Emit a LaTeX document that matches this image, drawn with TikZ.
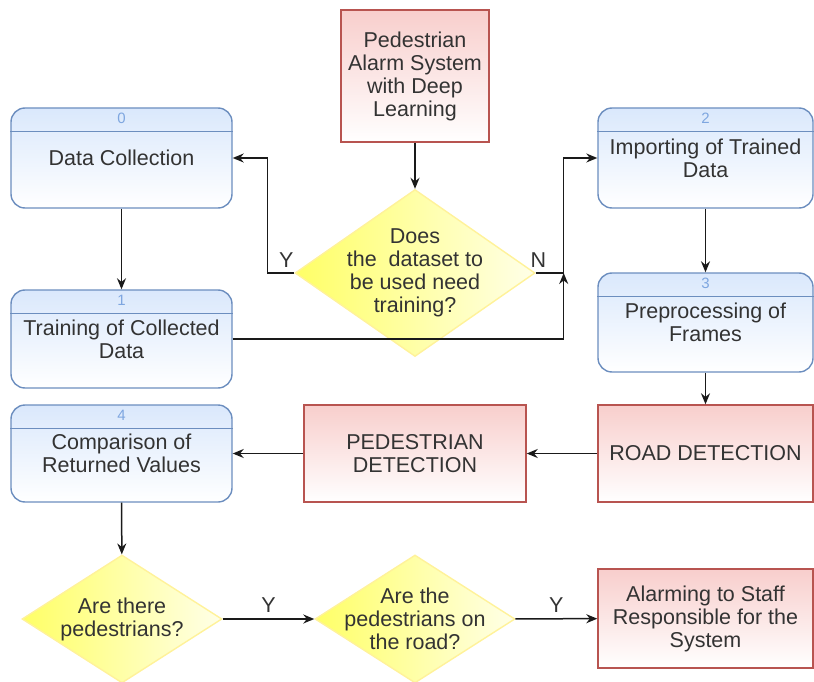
\documentclass[tikz,border=0pt]{standalone}
\usepackage{fontspec}
\setmainfont{Liberation Sans}
\usetikzlibrary{shapes.geometric, arrows.meta, positioning}

\definecolor{blueTop}{HTML}{DAE8FC}
\definecolor{blueLine}{HTML}{6C8EBF}
\definecolor{blueNum}{HTML}{7EA6E0}
\definecolor{redTop}{HTML}{F8CECC}
\definecolor{redLine}{HTML}{B85450}
\definecolor{yellowFill}{HTML}{FFFF66}
\definecolor{yellowLine}{HTML}{FFF29A}
\definecolor{textGray}{HTML}{333333}
\definecolor{lineBlack}{HTML}{1A1A1A}

\begin{document}
\begin{tikzpicture}[x=1pt, y=-1pt, >={Stealth[length=11pt, width=9pt]},
    font=\fontsize{21.5}{23}\selectfont, text=textGray,
    process/.style={draw=blueLine, line width=1.4pt, rounded corners=14pt,
        top color=blueTop, bottom color=white, align=center, inner sep=0pt},
    block/.style={draw=redLine, line width=1.4pt,
        top color=redTop, bottom color=white, align=center, inner sep=0pt},
    decision/.style={diamond, draw=yellowLine, line width=1.4pt,
        left color=yellowFill, right color=yellowFill!15!white, inner sep=0pt},
    flow/.style={->, draw=lineBlack, line width=1.5pt},
    header/.style={draw=blueLine, line width=1.4pt},
    num/.style={text=blueNum, font=\fontsize{15}{16}\selectfont}]

    \useasboundingbox (0,0) rectangle (814,682);
    \clip (0,0) rectangle (814,682);

    % Start
    \node [block, minimum width=148pt, minimum height=132pt] (title) at (415,76)
        {Pedestrian\\Alarm System\\with Deep\\Learning};

    % First decision
    \node [decision, minimum width=240pt, minimum height=167pt] (q_train) at (415,273) {};
    \node [align=center] (q_train_txt) at (q_train) {Does\\the\ \ dataset to\\be used need\\training?};
    \coordinate (join) at ([xshift=28pt]q_train.east);

    % Numbered processes
    \node [process, minimum width=221pt, minimum height=100pt] (data_col) at (121.5,158) {Data Collection};
    \node [process, minimum width=221pt, minimum height=98pt] (train) at (121.5,339) {Training of Collected\\Data};
    \node [process, minimum width=215pt, minimum height=100pt] (import) at (705.5,158) {Importing of Trained\\Data};
    \node [process, minimum width=215pt, minimum height=99pt] (prep) at (705.5,322.5) {Preprocessing of\\Frames};
    \node [process, minimum width=221pt, minimum height=97pt] (compare) at (121.5,453.5) {Comparison of\\Returned Values};

    \foreach \n/\k in {data_col/0, train/1, import/2, prep/3, compare/4} {
        \draw [header] ([yshift=-24pt]\n.north west) -- ([yshift=-24pt]\n.north east);
        \node [num] (num\k) at ([yshift=-11pt]\n.north) {\k};
    }

    % Detection
    \node [block, minimum width=215pt, minimum height=97pt] (road_det) at (705.5,453.5) {ROAD DETECTION};
    \node [block, minimum width=222pt, minimum height=97pt] (ped_det) at (415,453.5) {PEDESTRIAN\\DETECTION};

    % Lower decisions
    \node [decision, minimum width=200pt, minimum height=128pt] (q_ped) at (122,619) {};
    \node [align=center] (q_ped_txt) at (q_ped) {Are there\\pedestrians?};
    \node [decision, minimum width=200pt, minimum height=128pt] (q_road) at (415,619) {};
    \node [align=center] (q_road_txt) at (q_road) {Are the\\pedestrians on\\the road?};

    % Output
    \node [block, minimum width=215pt, minimum height=99pt] (alarm) at (705.5,618.5)
        {Alarming to Staff\\Responsible for the\\System};

    % Connections
    \draw [flow] (title) -- (q_train);
    \draw [flow] (q_train.west) -- ++(-27,0) node[pos=0.3, above=1pt] {Y} |- (data_col.east);
    \draw [flow] (q_train.east) -- (join) node[pos=0.1, above=1pt] {N} |- (import.west);
    \draw [flow] (train.east) -| (join);
    \draw [flow] (data_col) -- (train);
    \draw [flow] (import) -- (prep);
    \draw [flow] (prep) -- (road_det);
    \draw [flow] (road_det) -- (ped_det);
    \draw [flow] (ped_det) -- (compare);
    \draw [flow] (compare) -- (q_ped);
    \draw [flow] (q_ped) -- (q_road) node[midway, above=2pt] {Y};
    \draw [flow] (q_road) -- (alarm) node[midway, above=2pt] {Y};

\end{tikzpicture}
\end{document}
